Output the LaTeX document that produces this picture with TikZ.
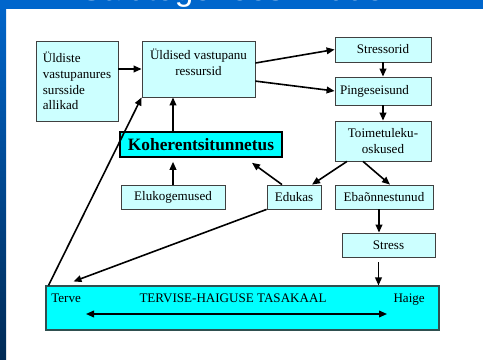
\documentclass[tikz,border=0pt]{standalone}
\usepackage{fontspec}
\setmainfont{Liberation Serif}
\setsansfont{Liberation Sans}
\usetikzlibrary{arrows.meta,calc}
\definecolor{boxfill}{HTML}{CCFFFF}
\definecolor{barfill}{HTML}{00FFFF}
\definecolor{slideblue}{HTML}{0066CC}
\definecolor{slidedark}{HTML}{002A55}
\definecolor{bardraw}{HTML}{2F5050}
\tikzset{
  box/.style={draw=black!75, fill=boxfill, line width=0.6pt, inner sep=0pt,
    font=\fontsize{9.8}{11.8}\selectfont},
  arr/.style={line width=1.2pt, -{Triangle[length=6pt,width=5pt]}},
}
\begin{document}
\begin{tikzpicture}[x=0.75pt,y=-0.75pt]
            \useasboundingbox (0,0) rectangle (483,360);
            
            % Slide background with the cut title
            \fill [white] (0,0) rectangle (483,360);%
            \shade [top color=slideblue, bottom color=slidedark] (0,0) rectangle (6,360);%
            \fill [slideblue] (0,0) rectangle (483,9);%
            \begin{scope}
            \clip (0,0) rectangle (483,9);
            \node [anchor=base west, inner sep=0pt, text=white, font=\sffamily\fontsize{25}{30}\selectfont] (title) at (80,0.5) {Salutogeneesi mudel};%
            \end{scope}
            
            % Boxes of the upper part
            \node [box, minimum width=61.5pt, minimum height=60pt, align=left] (srcs) at (77,81) {Üldiste\\vastupanures\\sursside\\allikad};%
            \node [box, minimum width=84.75pt, minimum height=42pt, align=center, text depth=10.5pt] (res) at (198.5,69) {Üldised vastupanu\\ressursid};%
            \node [box, minimum width=72pt, minimum height=18.75pt] (str) at (383,49.5) {Stressorid};%
            \node [box, minimum width=72pt, minimum height=21pt, text width=64.5pt, align=left] (pinge) at (383,91) {Pingeseisund};%
            \node [box, minimum width=72pt, minimum height=30pt, align=center] (toim) at (383,141) {Toimetuleku-\\oskused};%
            
            % Coherence box
            \node [box, draw=black, line width=1.2pt, fill=barfill, minimum width=121.5pt, minimum height=18.75pt, font=\bfseries\fontsize{13}{15}\selectfont] (koh) at (201,144.5) {Koherentsitunnetus};%
            
            % Boxes of the lower part
            \node [box, minimum width=78pt, minimum height=18pt] (elu) at (173,197) {Elukogemused};%
            \node [box, minimum width=40.5pt, minimum height=18pt] (edu) at (294,197) {Edukas};%
            \node [box, minimum width=73.5pt, minimum height=18pt] (eba) at (384,197) {Ebaõnnestunud};%
            \node [box, minimum width=69.75pt, minimum height=18pt] (stress) at (388.5,245) {Stress};%
            
            % Health balance bar
            \node [box, draw=bardraw, line width=0.8pt, fill=barfill, minimum width=294.75pt, minimum height=33pt] (bar) at (242.5,308) {};%
            \node [anchor=base west, inner sep=0pt, font=\fontsize{9.8}{11.8}\selectfont] (terve) at (51,302) {Terve};%
            \node [anchor=base, inner sep=0pt, font=\fontsize{9.8}{11.8}\selectfont] (balance) at (233,302) {TERVISE-HAIGUSE TASAKAAL};%
            \node [anchor=base east, inner sep=0pt, font=\fontsize{9.8}{11.8}\selectfont] (haige) at (425,302) {Haige};%
            \coordinate (hleft) at (86,314);%
            \coordinate (hright) at (387,314);%
            \draw [arr, {Triangle[length=6pt,width=5pt]}-{Triangle[length=6pt,width=5pt]}] (hleft) -- (hright);%
            
            % Connectors
            \draw [arr] (srcs.east |- res.west) -- (res.west);%
            \draw [arr] (res.6) -- (str.west);%
            \draw [arr] (res.-12) -- (pinge.west);%
            \draw [arr] (str.south) -- (pinge.north);%
            \draw [arr] (pinge.south) -- (toim.north);%
            \draw [arr] ($(toim.south)+(-36,0)$) -- ($(edu.north)+(18,0)$);%
            \draw [arr] ($(toim.south)+(-20,0)$) -- ($(eba.north)+(6,0)$);%
            \draw [arr] ($(edu.north)+(-12,0)$) -- ($(koh.south)+(51,5)$);%
            \draw [arr] (elu.north) -- ($(koh.south -| elu.north)+(0,4)$);%
            \draw [arr] (koh.north -| elu.north) -- (res.south -| elu.north);%
            \draw [arr] ($(eba.south)+(-5,0)$) -- ($(eba.south |- stress.north)+(-5,0)$);%
            \draw [arr] ($(stress.south)+(-10,5)$) -- ($(stress.south |- bar.north)+(-10,0)$);%
            \draw [arr] (edu.south west) -- ($(bar.north west)+(28,-4)$);%
            \draw [arr] ($(bar.north west)+(3,0)$) -- (res.south west);%
        \end{tikzpicture}
\end{document}
